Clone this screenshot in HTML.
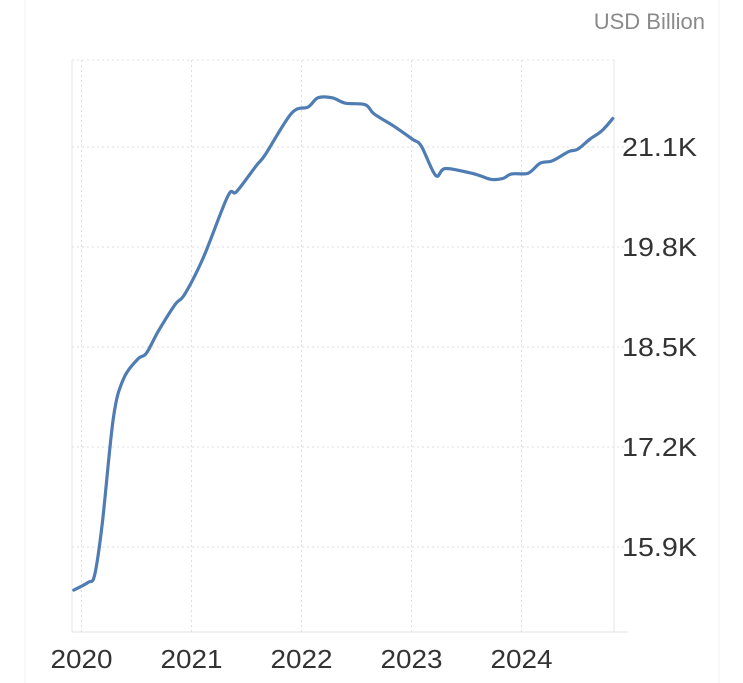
<!DOCTYPE html>
<html><head><meta charset="utf-8"><style>
html,body{margin:0;padding:0;background:#fff;}
svg{display:block;font-family:"Liberation Sans",sans-serif;}
</style></head><body>
<svg width="743" height="683" viewBox="0 0 743 683">
<line x1="25" y1="0" x2="25" y2="683" stroke="#f3f3f3" stroke-width="1"/>
<line x1="719" y1="0" x2="719" y2="683" stroke="#f3f3f3" stroke-width="1"/>
<text x="705" y="29" text-anchor="end" font-size="22" fill="#8a8a8a">USD Billion</text>
<g id="grid"></g>
<g id="axes"></g>
<path id="line" fill="none" stroke="#4f7db3" stroke-width="3.2" stroke-linejoin="round" stroke-linecap="round"/>
</svg>
<script>
const years=[2019.93,2020.06,2020.12,2020.19,2020.29,2020.38,2020.51,2020.59,2020.70,2020.85,2020.94,2021.11,2021.33,2021.41,2021.59,2021.67,2021.91,2022.06,2022.15,2022.28,2022.40,2022.58,2022.66,2022.84,2023.01,2023.09,2023.22,2023.31,2023.57,2023.72,2023.83,2023.91,2024.06,2024.17,2024.28,2024.43,2024.51,2024.62,2024.73,2024.83];
const values=[15.34,15.44,15.54,16.22,17.58,18.08,18.34,18.42,18.71,19.05,19.19,19.67,20.46,20.52,20.86,21.00,21.54,21.62,21.74,21.74,21.67,21.65,21.53,21.37,21.20,21.11,20.73,20.82,20.75,20.68,20.69,20.75,20.76,20.89,20.92,21.04,21.07,21.20,21.31,21.47];
const yTicks=[21.1,19.8,18.5,17.2,15.9];
const yTickLabels=["21.1K","19.8K","18.5K","17.2K","15.9K"];
const xTicks=[2020,2021,2022,2023,2024];
const xTickLabels=["2020","2021","2022","2023","2024"];
const NS="http://www.w3.org/2000/svg";
const L=72,R=614,T=60,B=632;
function xs(v){return 81.5+(v-2020)*110;}
function ys(v){return 147+(21.1-v)/1.3*100;}
function mk(tag,attrs,parent){const e=document.createElementNS(NS,tag);for(const k in attrs)e.setAttribute(k,attrs[k]);parent.appendChild(e);return e;}
const grid=document.getElementById('grid'),axes=document.getElementById('axes');
let e=mk('line',{x1:L,y1:T,x2:R,y2:T,stroke:'#e2e2e2','stroke-dasharray':'2,3'},grid);


yTicks.forEach((t,i)=>{
 const y=ys(t);
 let g=mk('line',{x1:L,y1:y,x2:R+14,y2:y,stroke:'#dedede','stroke-dasharray':'2,3'},grid);
 
 
 let tx=mk('text',{x:622,y:y+9,'font-size':26,fill:'#333',textLength:75,lengthAdjust:'spacingAndGlyphs'},axes);
 tx.textContent=yTickLabels[i];
 
 
});
xTicks.forEach((t,i)=>{
 const x=xs(t);
 let g=mk('line',{x1:x,y1:T,x2:x,y2:B,stroke:'#dedede','stroke-dasharray':'2,3'},grid);
 
 
 let tx=mk('text',{x:x,y:668,'font-size':26,fill:'#333','text-anchor':'middle',textLength:62,lengthAdjust:'spacingAndGlyphs'},axes);
 tx.textContent=xTickLabels[i];
 
 
});
let a=mk('line',{x1:L,y1:T,x2:L,y2:B,stroke:'#e4e4e4'},axes);


a=mk('line',{x1:R,y1:T,x2:R,y2:B,stroke:'#e4e4e4'},axes);


a=mk('line',{x1:L,y1:B,x2:R+14,y2:B,stroke:'#e0e0e0'},axes);


const pts=years.map((y,i)=>[xs(y),ys(values[i])]);
let d='M'+pts[0][0].toFixed(1)+','+pts[0][1].toFixed(1);
for(let i=0;i<pts.length-1;i++){
 const p0=pts[Math.max(0,i-1)],p1=pts[i],p2=pts[i+1],p3=pts[Math.min(pts.length-1,i+2)];
 const c1=[p1[0]+(p2[0]-p0[0])/6,p1[1]+(p2[1]-p0[1])/6];
 const c2=[p2[0]-(p3[0]-p1[0])/6,p2[1]-(p3[1]-p1[1])/6];
 d+=' C'+c1.map(v=>v.toFixed(1)).join(',')+' '+c2.map(v=>v.toFixed(1)).join(',')+' '+p2.map(v=>v.toFixed(1)).join(',');
}
document.getElementById('line').setAttribute('d',d);
</script>
</body></html>
